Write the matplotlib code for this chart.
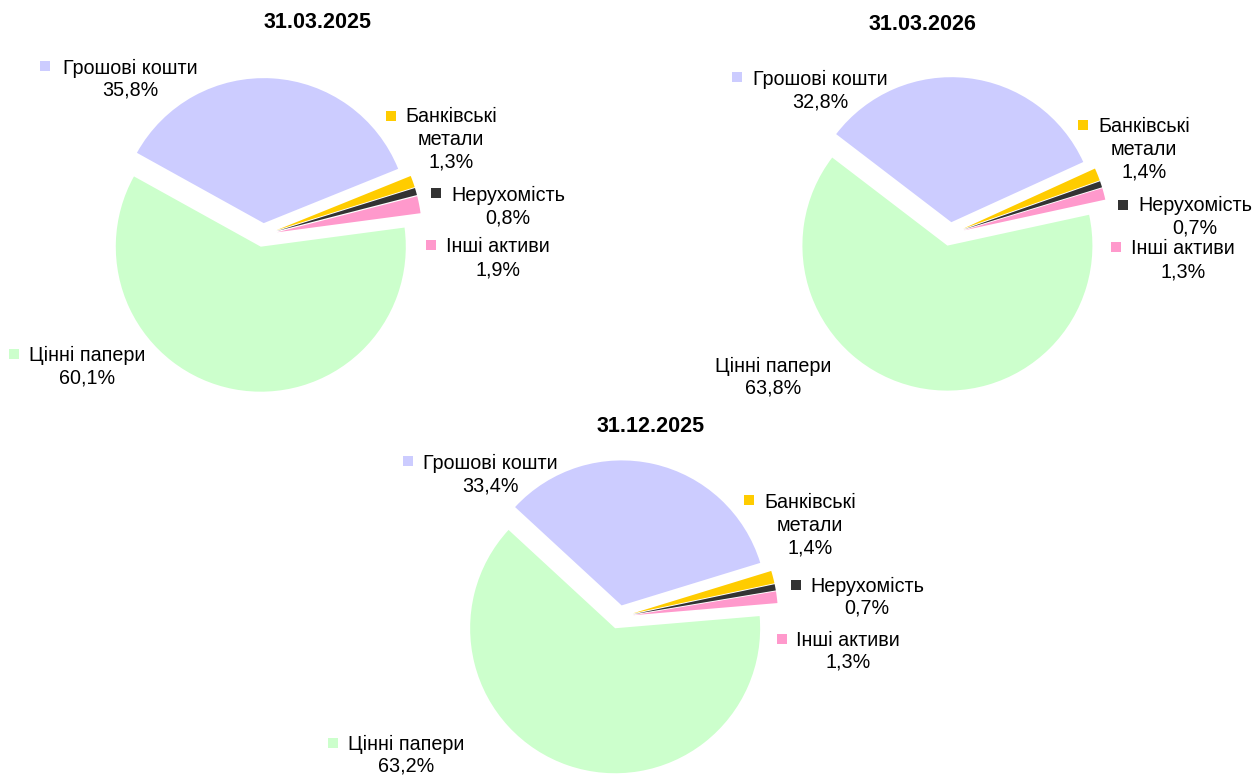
import numpy as np
import matplotlib
matplotlib.use('Agg')
import matplotlib.pyplot as plt


plt.rcParams['font.family'] = ['Liberation Sans', 'DejaVu Sans']

# Figure size in pixels
W, H = 1255, 775

# Data
categories = ['Грошові кошти', 'Банківські\nметали', 'Нерухомість', 'Інші активи', 'Цінні папери']
colors = ['#CCCCFF', '#FFCC00', '#333333', '#FF99CC', '#CCFFCC']

dates = ['31.03.2025', '31.03.2026', '31.12.2025']
shares_2025_03 = [35.8, 1.3, 0.8, 1.9, 60.1]
shares_2026_03 = [32.8, 1.4, 0.7, 1.3, 63.8]
shares_2025_12 = [33.4, 1.4, 0.7, 1.3, 63.2]
all_shares = [shares_2025_03, shares_2026_03, shares_2025_12]

# Layout (pixel coords, measured from top-left)
pie_centers = [(263, 235), (950, 234), (619, 617)]
pie_radius = 145
start_angles = [151, 142.6, 137.3]
explode_frac = [0.082, 0.097, 0.097, 0.097, 0.082]   # fraction of radius
title_pos = [(318, 22), (922, 24), (651, 427)]

# label anchor: (center x of text, y of first line, key x, key y)
label_pos = [
    [(130, 68, 45, 66), (451, 117, 391, 116), (508, 195, 436, 193),
     (498, 247, 431, 245), (87, 355, 14, 354)],
    [(820, 79, 737, 77), (1144, 127, 1083, 125), (1195, 205, 1123, 205),
     (1183, 249, 1116, 247), (773, 366, None, None)],
    [(490, 463, 408, 461), (810, 503, 749, 500), (867, 586, 796, 585),
     (848, 640, 782, 639), (406, 744, 333, 743)],
]
line_step = 22.5
font_size = 14.2

fig = plt.figure(figsize=(W / 100, H / 100), dpi=100)
ax = fig.add_axes([0, 0, 1, 1])

# matplotlib's explode is an absolute offset in data units -> scale by radius
explode = [e * pie_radius for e in explode_frac]

for k, shares in enumerate(all_shares):
    cx, cy = pie_centers[k]
    ax.pie(shares, colors=colors, startangle=start_angles[k], counterclock=False,
           explode=explode, radius=pie_radius, center=(cx, H - cy),
           wedgeprops=dict(linewidth=0))

    tx, ty = title_pos[k]
    ax.text(tx, H - ty, dates[k], ha='center', va='center',
            fontsize=15.5, fontweight='bold', color='black')

    for name, value, color, (lx, ly, kx, ky) in zip(categories, shares, colors, label_pos[k]):
        lines = name.split('\n') + [f'{value:.1f}'.replace('.', ',') + '%']
        for i, line in enumerate(lines):
            ax.text(lx, H - (ly + i * line_step), line, ha='center', va='center',
                    fontsize=font_size, color='black')
        if kx is not None:
            ax.plot(kx, H - ky, marker='s', markersize=6.5, color=color,
                    markeredgewidth=0, linestyle='none')

ax.set_xlim(0, W)
ax.set_ylim(0, H)
ax.set_aspect('equal')
ax.axis('off')

fig.savefig('out.png', dpi=100, facecolor='white')
